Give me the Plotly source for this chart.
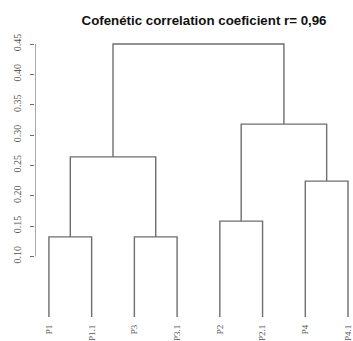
import plotly.graph_objects as go

# ---- data ----
leaf_labels = ["P1", "P1.1", "P3", "P3.1", "P2", "P2.1", "P4", "P4.1"]
# merges: (left child, right child, height); children are leaf names or merge ids "m0".."m6"
merge_left = ["P1", "P3", "P2", "P4", "m0", "m2", "m4"]
merge_right = ["P1.1", "P3.1", "P2.1", "P4.1", "m1", "m3", "m5"]
merge_height = [0.132, 0.132, 0.158, 0.224, 0.264, 0.318, 0.450]
y_ticks = [0.10, 0.15, 0.20, 0.25, 0.30, 0.35, 0.40, 0.45]
title_text = "Cofenétic correlation coeficient r= 0,96"

# ---- build dendrogram segments ----
pos = {}
hgt = {}
for i, lab in enumerate(leaf_labels):
    pos[lab] = i + 1
    hgt[lab] = 0.0

xs, ys = [], []
for k, (a, b, h) in enumerate(zip(merge_left, merge_right, merge_height)):
    xa, xb = pos[a], pos[b]
    xs += [xa, xa, xb, xb, None]
    ys += [hgt[a], h, h, hgt[b], None]
    mid = f"m{k}"
    pos[mid] = (xa + xb) / 2
    hgt[mid] = h

line_col = "#6e6e6e"
fig = go.Figure()
fig.add_trace(go.Scatter(x=xs, y=ys, mode="lines",
                         line=dict(color=line_col, width=1.4),
                         hoverinfo="skip", cliponaxis=False, showlegend=False))

x_lo = 1 - 14 / 43
x_hi = 1 + 304 / 43
# y-axis spine only across tick span (R style)
fig.add_trace(go.Scatter(x=[x_lo, x_lo], y=[y_ticks[0], y_ticks[-1]], mode="lines",
                         line=dict(color=line_col, width=1.2),
                         hoverinfo="skip", cliponaxis=False, showlegend=False))

fig.update_layout(
    width=353, height=341,
    margin=dict(l=35, r=0, t=0, b=21),
    paper_bgcolor="white", plot_bgcolor="white",
    title=dict(text=f"<b>{title_text}</b>", x=0.578, xanchor="center",
               y=1 - 20 / 341, yanchor="middle", yref="container",
               font=dict(family="Liberation Sans, Arial", size=13.3, color="#111")),
    xaxis=dict(range=[x_lo, x_hi], showgrid=False, zeroline=False, showline=False,
               tickmode="array", tickvals=list(range(1, len(leaf_labels) + 1)),
               ticktext=leaf_labels, tickangle=-90, ticks="",
               ticklabelstandoff=2, ticklabeloverflow="allow",
               tickfont=dict(family="Liberation Serif, Times New Roman", size=9, color="#555")),
    yaxis=dict(range=[-3 / 606.7, 0.45 + 44 / 606.7], showgrid=False, zeroline=False,
               showline=False, tickmode="array", tickvals=y_ticks,
               ticktext=[f"{v:.2f}" for v in y_ticks], tickangle=-90,
               ticks="outside", ticklen=4, tickcolor=line_col, tickwidth=1.2,
               ticklabelstandoff=5,
               tickfont=dict(family="Liberation Serif, Times New Roman", size=10, color="#555")),
)

fig.write_html("out.html")
